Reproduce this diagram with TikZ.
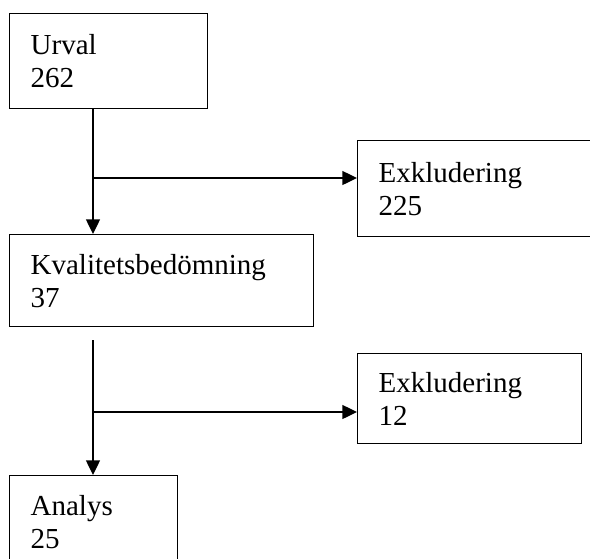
\documentclass[tikz,border=0pt]{standalone}
\usepackage{fontspec}
\setmainfont{Liberation Serif}
\usetikzlibrary{arrows.meta,positioning}

\tikzset{
  ruta/.style={draw, line width=1pt, rectangle, anchor=north west,
    inner xsep=15.75pt, inner ysep=0pt, align=left,
    font=\fontsize{21.75}{24.75}\selectfont},
  pil/.style={line width=1pt, -{Triangle[length=11pt,width=10.5pt]}}
}

\begin{document}
\begin{tikzpicture}[x=0.75pt, y=-0.75pt]
  \clip (0,0) rectangle (590,558);

  % Rutorna i flödet
  \node[ruta, text width=117pt, minimum height=71.25pt] (urval) at (9,13) {Urval\\262};
  \node[ruta, text width=150.75pt, minimum height=72pt] (excl1) at (357,140) {Exkludering\\225};
  \node[ruta, text width=196.5pt, minimum height=69pt] (kval) at (9,234) {Kvalitetsbedömning\\37};
  \node[ruta, text width=136.5pt, minimum height=67.5pt] (excl2) at (357,353) {Exkludering\\12};
  \node[ruta, text width=94.5pt, minimum height=69.75pt] (analys) at (9,475) {Analys\\25};

  % Pilar, första steget
  \coordinate (gren1) at (93,178);
  \draw[pil] (urval.south -| gren1) -- (kval.north -| gren1);
  \draw[pil] (gren1) -- (excl1.west |- gren1);

  % Pilar, andra steget
  \coordinate (start2) at (93,340);
  \coordinate (gren2) at (93,412);
  \draw[pil] (start2) -- (analys.north -| start2);
  \draw[pil] (gren2) -- (excl2.west |- gren2);
\end{tikzpicture}
\end{document}
